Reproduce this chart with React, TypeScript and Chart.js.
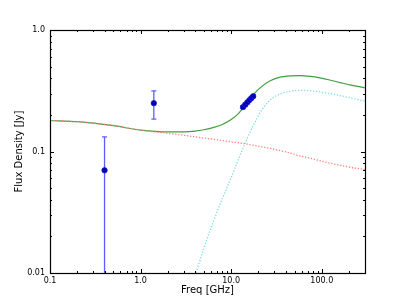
import React, { useEffect, useRef } from 'react';
import { Chart, registerables } from 'chart.js';

Chart.register(...registerables);

// ---- data ----
const curveFreq = [0.1, 0.2, 0.5, 1, 2, 3, 4, 5, 6.3, 8, 10, 12, 15, 18, 22, 27, 34, 45, 57, 75, 95, 125, 160, 210, 300];
const totalFlux = [0.18, 0.176, 0.163, 0.15, 0.145, 0.145, 0.147, 0.151, 0.157, 0.167, 0.183, 0.205, 0.25, 0.3, 0.345, 0.382, 0.407, 0.419, 0.421, 0.415, 0.404, 0.386, 0.369, 0.352, 0.334];
const syncFlux = [0.18, 0.176, 0.164, 0.15, 0.141, 0.136, 0.132, 0.129, 0.126, 0.123, 0.12, 0.118, 0.115, 0.112, 0.109, 0.106, 0.102, 0.097, 0.092, 0.088, 0.084, 0.08, 0.077, 0.074, 0.071];
const dustFreq = [4, 5, 6.3, 8, 10, 12, 15, 18, 22, 27, 34, 45, 57, 75, 95, 125, 160, 210, 300];
const dustFlux = [0.0095, 0.016, 0.026, 0.041, 0.061, 0.086, 0.128, 0.17, 0.222, 0.266, 0.296, 0.313, 0.319, 0.316, 0.309, 0.299, 0.288, 0.276, 0.26];

const obsFreq = [0.4, 1.4, 13.5, 14.3, 15.1, 15.9, 16.7, 17.5];
const obsFlux = [0.07, 0.25, 0.232, 0.243, 0.254, 0.265, 0.275, 0.285];
const obsErr = [0.062, 0.065, 0.006, 0.006, 0.006, 0.006, 0.007, 0.007];

const xTicks = [0.1, 1, 10, 100];
const xTickLabels = ['0.1', '1.0', '10.0', '100.0'];
const yTicks = [0.01, 0.1, 1];
const yTickLabels = ['0.01', '0.1', '1.0'];

const X_MIN = 0.1;
const X_MAX = 300;
const Y_MIN = 0.01;
const Y_MAX = 1;

const FONT = 'DejaVu Sans';

function minorValues(min: number, max: number): { v: number; major: boolean }[] {
  const out: { v: number; major: boolean }[] = [];
  for (let e = Math.floor(Math.log10(min)); e <= Math.ceil(Math.log10(max)); e++) {
    for (let k = 1; k <= 9; k++) {
      const v = k * Math.pow(10, e);
      if (v >= min * 0.9999 && v <= max * 1.0001) out.push({ v, major: k === 1 });
    }
  }
  return out;
}

const framePlugin = {
  id: 'frameTicks',
  afterDatasetsDraw(chart: any) {
    const { ctx, chartArea } = chart;
    const xs = chart.scales.x;
    const ys = chart.scales.y;
    const { left, right, top, bottom } = chartArea;
    ctx.save();
    ctx.strokeStyle = '#000';
    ctx.lineWidth = 1;
    ctx.beginPath();
    for (const t of minorValues(X_MIN, X_MAX)) {
      const px = Math.round(xs.getPixelForValue(t.v)) + 0.5;
      const len = t.major ? 4 : 2;
      ctx.moveTo(px, bottom);
      ctx.lineTo(px, bottom - len);
      ctx.moveTo(px, top);
      ctx.lineTo(px, top + len);
    }
    for (const t of minorValues(Y_MIN, Y_MAX)) {
      const py = Math.round(ys.getPixelForValue(t.v)) + 0.5;
      const len = t.major ? 4 : 2;
      ctx.moveTo(left, py);
      ctx.lineTo(left + len, py);
      ctx.moveTo(right, py);
      ctx.lineTo(right - len, py);
    }
    ctx.stroke();
    ctx.lineWidth = 1.2;
    ctx.strokeRect(left + 0.5, top + 0.5, right - left, bottom - top);
    ctx.restore();
  },
};

const errorBarPlugin = {
  id: 'errorBars',
  beforeDatasetsDraw(chart: any) {
    const { ctx, chartArea } = chart;
    const xs = chart.scales.x;
    const ys = chart.scales.y;
    ctx.save();
    ctx.beginPath();
    ctx.rect(chartArea.left, chartArea.top, chartArea.right - chartArea.left, chartArea.bottom - chartArea.top);
    ctx.clip();
    ctx.strokeStyle = 'rgba(40,40,255,0.75)';
    ctx.lineWidth = 1.3;
    ctx.beginPath();
    obsFreq.forEach((f, i) => {
      const px = xs.getPixelForValue(f);
      const lo = Math.max(obsFlux[i] - obsErr[i], 1e-4);
      const hi = obsFlux[i] + obsErr[i];
      const pLo = ys.getPixelForValue(lo);
      const pHi = ys.getPixelForValue(hi);
      ctx.moveTo(px, pLo);
      ctx.lineTo(px, pHi);
      ctx.moveTo(px - 2.5, pLo);
      ctx.lineTo(px + 2.5, pLo);
      ctx.moveTo(px - 2.5, pHi);
      ctx.lineTo(px + 2.5, pHi);
    });
    ctx.stroke();
    ctx.restore();
  },
};

export default function App() {
  const ref = useRef<HTMLCanvasElement | null>(null);

  useEffect(() => {
    if (!ref.current) return;
    const pts = (xs: number[], ys: number[]) => xs.map((x, i) => ({ x, y: ys[i] }));
    const chart = new Chart(ref.current, {
      type: 'line',
      data: {
        datasets: [
          {
            label: 'Observed',
            data: pts(obsFreq, obsFlux),
            showLine: false,
            pointRadius: 2.7,
            pointBackgroundColor: '#0000b0',
            pointBorderColor: '#1a1ad0',
            pointBorderWidth: 0.8,
          },
          {
            label: 'Synchrotron',
            data: pts(curveFreq, syncFlux),
            borderColor: '#ff8080',
            borderWidth: 1.3,
            borderDash: [1.3, 1.7],
            pointRadius: 0,
            cubicInterpolationMode: 'monotone',
            fill: false,
          },
          {
            label: 'Dust',
            data: pts(dustFreq, dustFlux),
            borderColor: '#7fdfdf',
            borderWidth: 1.3,
            borderDash: [1.3, 1.7],
            pointRadius: 0,
            cubicInterpolationMode: 'monotone',
            fill: false,
          },
          {
            label: 'Total',
            data: pts(curveFreq, totalFlux),
            borderColor: '#3f9f3f',
            borderWidth: 1.2,
            pointRadius: 0,
            cubicInterpolationMode: 'monotone',
            fill: false,
          },
        ],
      },
      options: {
        responsive: false,
        animation: false,
        parsing: true,
        layout: { padding: { top: 30, right: 40, left: 0, bottom: 0 } },
        plugins: {
          legend: { display: false },
          tooltip: { enabled: false },
        },
        scales: {
          x: {
            type: 'logarithmic',
            min: X_MIN,
            max: X_MAX,
            afterBuildTicks: (s: any) => {
              s.ticks = xTicks.map((v) => ({ value: v }));
            },
            afterFit: (s: any) => {
              s.height = 31;
            },
            ticks: {
              autoSkip: false,
              maxRotation: 0,
              padding: 3,
              color: '#000',
              font: { family: FONT, size: 8 },
              callback: (_v: any, i: number) => xTickLabels[i],
            },
            grid: { display: false, drawTicks: false },
            border: { display: false },
            title: {
              display: true,
              text: 'Freq [GHz]',
              color: '#000',
              font: { family: FONT, size: 10 },
              padding: { top: 0, bottom: 8 },
            },
          },
          y: {
            type: 'logarithmic',
            min: Y_MIN,
            max: Y_MAX,
            afterBuildTicks: (s: any) => {
              s.ticks = yTicks.map((v) => ({ value: v }));
            },
            afterFit: (s: any) => {
              s.width = 50;
            },
            ticks: {
              autoSkip: false,
              padding: 5,
              color: '#000',
              font: { family: FONT, size: 8 },
              callback: (_v: any, i: number) => yTickLabels[i],
            },
            grid: { display: false, drawTicks: false },
            border: { display: false },
            title: {
              display: true,
              text: 'Flux Density [Jy]',
              color: '#000',
              font: { family: FONT, size: 10 },
              padding: { top: 13, bottom: 0 },
            },
          },
        },
      },
      plugins: [errorBarPlugin, framePlugin],
    } as any);
    return () => chart.destroy();
  }, []);

  return (
    <div style={{ position: 'absolute', left: 0, top: 0, width: 405, height: 304, background: '#fff' }}>
      <canvas ref={ref} width={405} height={304} style={{ display: 'block', width: 405, height: 304 }} />
    </div>
  );
}
